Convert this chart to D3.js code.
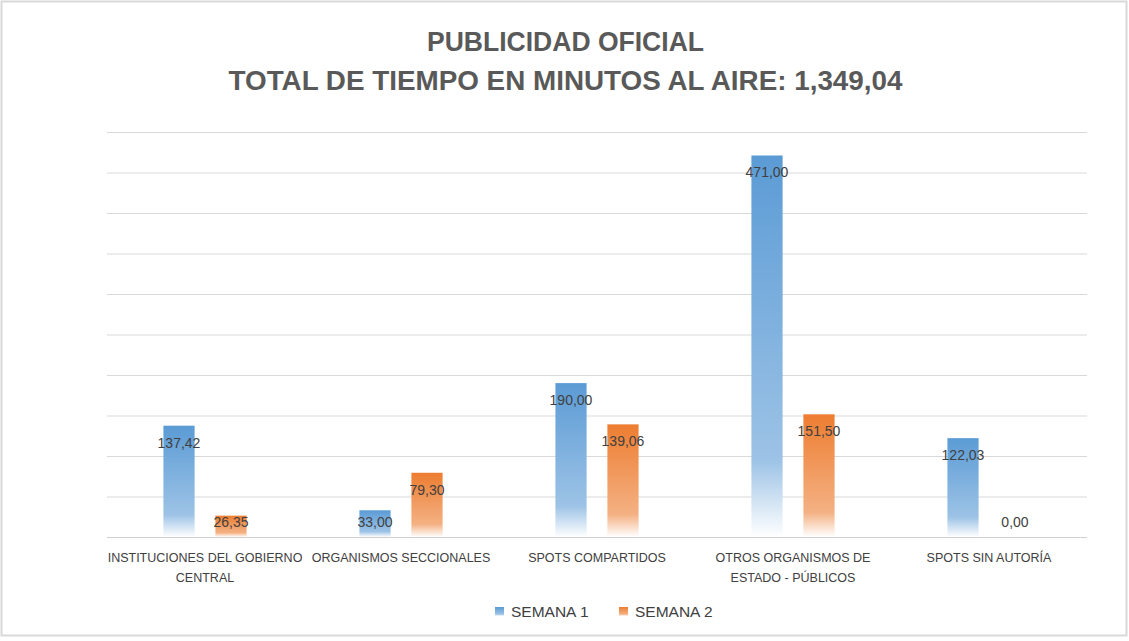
<!DOCTYPE html>
<html>
<head>
<meta charset="utf-8">
<script src="https://cdn.jsdelivr.net/npm/d3@7"></script>
<style>
  body { margin: 0; background: #fff; }
  text { font-family: "Liberation Sans", Arial, sans-serif; }
</style>
</head>
<body>
<div id="container"></div>
<script>
var categories = [
  ['INSTITUCIONES DEL GOBIERNO', 'CENTRAL'],
  ['ORGANISMOS SECCIONALES'],
  ['SPOTS COMPARTIDOS'],
  ['OTROS ORGANISMOS DE', 'ESTADO - PÚBLICOS'],
  ['SPOTS SIN AUTORÍA']
];
var series = ['SEMANA 1', 'SEMANA 2'];
var semana1 = [137.42, 33.00, 190.00, 471.00, 122.03];
var semana2 = [26.35, 79.30, 139.06, 151.50, 0.00];
var yTicks = [0, 50, 100, 150, 200, 250, 300, 350, 400, 450, 500];
var titleLines = ['PUBLICIDAD OFICIAL', 'TOTAL DE TIEMPO EN MINUTOS AL AIRE: 1,349,04'];

var width = 1129, height = 641;
var plot = {left: 107, right: 1087, top: 132, bottom: 537};

var svg = d3.select('div#container')
  .append('svg')
  .attr('width', width)
  .attr('height', height);

// chart frame
svg.append('rect')
  .attr('x', 1.5).attr('y', 1.5)
  .attr('width', 1125).attr('height', 634)
  .attr('fill', '#fff')
  .attr('stroke', '#d9d9d9')
  .attr('stroke-width', 2);

var defs = svg.append('defs');
var colors = ['#5b9bd5', '#ed7d31'];
var lights = ['#9dc3e6', '#f4b183'];
colors.forEach(function(c, i) {
  var g = defs.append('linearGradient')
    .attr('id', 'grad' + i)
    .attr('x1', 0).attr('y1', 0).attr('x2', 0).attr('y2', 1);
  g.append('stop').attr('offset', '0').attr('stop-color', c);
  g.append('stop').attr('offset', '0.8').attr('stop-color', lights[i]);
  g.append('stop').attr('offset', '1').attr('stop-color', '#ffffff');
});

// title
svg.selectAll('text.title')
  .data(titleLines)
  .join('text')
  .attr('class', 'title')
  .attr('x', width / 2 + 1)
  .attr('y', (d, i) => 51 + i * 39)
  .attr('text-anchor', 'middle')
  .attr('font-size', 27)
  .attr('font-weight', 'bold')
  .attr('fill', '#595959')
  .attr('textLength', (d, i) => i == 0 ? 277 : 674)
  .attr('lengthAdjust', 'spacingAndGlyphs')
  .text(d => d);

var x0 = d3.scaleBand()
  .domain(d3.range(categories.length))
  .range([plot.left, plot.right]);

var x1 = d3.scaleBand()
  .domain(series)
  .range([0, x0.bandwidth()])
  .paddingInner(0.4)
  .paddingOuter(1.085);

var y = d3.scaleLinear()
  .domain([0, 500])
  .range([plot.bottom, plot.top]);

// gridlines
var yAxis = d3.axisLeft(y)
  .tickValues(yTicks)
  .tickSize(-(plot.right - plot.left))
  .tickFormat('');
var gy = svg.append('g')
  .attr('transform', 'translate(' + plot.left + ',0)')
  .call(yAxis);
gy.select('.domain').remove();
gy.selectAll('.tick line')
  .attr('stroke', '#d9d9d9')
  .attr('stroke-width', 1);

// bars
var rows = categories.map((c, i) => ({i: i, vals: [semana1[i], semana2[i]]}));
var groups = svg.append('g').selectAll('g')
  .data(rows)
  .join('g')
  .attr('transform', d => 'translate(' + x0(d.i) + ',0)');

var cells = groups.selectAll('g')
  .data(d => d.vals.map((v, k) => ({k: k, v: v})))
  .join('g');

cells.append('rect')
  .attr('x', d => x1(series[d.k]))
  .attr('y', d => y(d.v))
  .attr('width', x1.bandwidth())
  .attr('height', d => y(0) - y(d.v))
  .attr('fill', d => 'url(#grad' + d.k + ')');

cells.append('text')
  .attr('x', d => x1(series[d.k]) + x1.bandwidth() / 2)
  .attr('y', d => Math.min(y(d.v) + 22, 527))
  .attr('text-anchor', 'middle')
  .attr('font-size', 14)
  .attr('fill', '#404040')
  .text(d => d3.format('.2f')(d.v).replace('.', ','));

// baseline
svg.append('line')
  .attr('x1', plot.left).attr('x2', plot.right)
  .attr('y1', plot.bottom + 0.5).attr('y2', plot.bottom + 0.5)
  .attr('stroke', '#d0d0d0')
  .attr('stroke-width', 1);

// category labels
var xAxis = d3.axisBottom(x0).tickSize(0).tickFormat('');
var gx = svg.append('g')
  .attr('transform', 'translate(0,' + plot.bottom + ')')
  .call(xAxis);
gx.select('.domain').remove();
gx.selectAll('.tick').each(function(i) {
  d3.select(this).selectAll('text.cat')
    .data(categories[i])
    .join('text')
    .attr('class', 'cat')
    .attr('x', 0)
    .attr('y', (d, j) => 25 + j * 20)
    .attr('text-anchor', 'middle')
    .attr('font-size', 12.5)
    .attr('fill', '#404040')
    .text(d => d);
});

// legend
var legend = svg.append('g').selectAll('g')
  .data(series)
  .join('g')
  .attr('transform', (d, i) => 'translate(' + (495 + i * 124) + ',607)');
legend.append('rect')
  .attr('width', 9).attr('height', 9)
  .attr('fill', (d, i) => 'url(#grad' + i + ')');
legend.append('text')
  .attr('x', 16).attr('y', 10)
  .attr('font-size', 15.5)
  .attr('fill', '#404040')
  .text(d => d);
</script>
</body>
</html>
